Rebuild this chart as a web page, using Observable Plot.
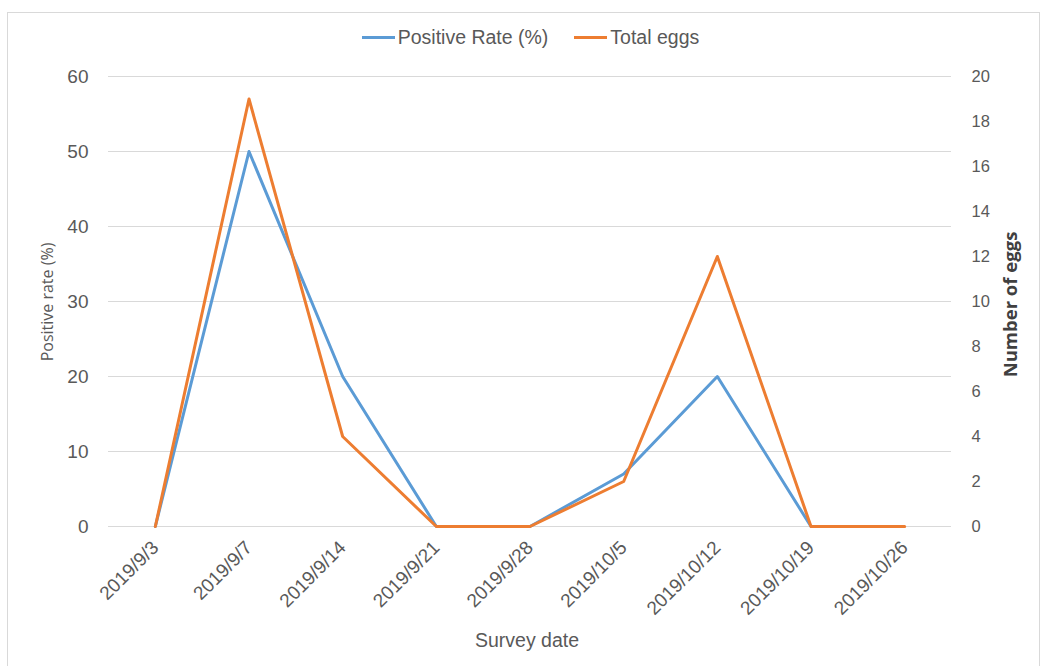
<!DOCTYPE html>
<html>
<head>
<meta charset="utf-8">
<script src="https://cdn.jsdelivr.net/npm/d3@7"></script>
<script src="https://cdn.jsdelivr.net/npm/@observablehq/plot@0.6"></script>
<style>
  body { margin: 0; background: #fff; font-family: "Liberation Sans", Arial, sans-serif; }
  #wrap { position: relative; width: 1045px; height: 666px; overflow: hidden; }
  #frame { position: absolute; left: 7px; top: 12px; width: 1033px; height: 700px; border: 1px solid #d9d9d9; box-sizing: border-box; }
  #legend { position: absolute; top: 26px; left: 8px; width: 1045px; display: flex; justify-content: center; gap: 26px; font-size: 19.5px; color: #595959; }
  #legend .item { display: flex; align-items: center; }
  #legend .sw { width: 33px; height: 3px; margin-right: 3px; }
  #chart { position: absolute; left: 0; top: 55px; }
  .ylab { position: absolute; color: #595959; white-space: nowrap; transform-origin: center; }
</style>
</head>
<body>
<div id="wrap">
  <div id="frame"></div>
  <div id="legend"></div>
  <div id="chart"></div>
</div>
<script>
const dates = ["2019/9/3","2019/9/7","2019/9/14","2019/9/21","2019/9/28","2019/10/5","2019/10/12","2019/10/19","2019/10/26"];
const positiveRate = [0, 50, 20, 0, 0, 7, 20, 0, null];
const totalEggs = [0, 19, 4, 0, 0, 2, 12, 0, 0];
const leftTicks = [0, 10, 20, 30, 40, 50, 60];
const rightTicks = [0, 2, 4, 6, 8, 10, 12, 14, 16, 18, 20];
const seriesNames = ["Positive Rate (%)", "Total eggs"];
const colors = ["#5b9bd5", "#ed7d31"];

const ratio = 60 / 20; // right axis maps 0-20 onto left 0-60

const rateData = dates.map((d, i) => ({date: d, value: positiveRate[i]}));
const eggData = dates.map((d, i) => ({date: d, value: totalEggs[i]}));

// legend
const legend = document.getElementById("legend");
seriesNames.forEach((n, i) => {
  const it = document.createElement("div");
  it.className = "item";
  it.innerHTML = `<span class="sw" style="background:${colors[i]}"></span><span>${n}</span>`;
  legend.appendChild(it);
});

const chart = Plot.plot({
  width: 1045,
  height: 611,
  marginLeft: 108,
  marginRight: 94,
  marginTop: 21,
  marginBottom: 140,
  style: { fontFamily: "Liberation Sans, Arial, sans-serif", color: "#595959", background: "transparent" },
  x: { type: "point", domain: dates, padding: 0.5, round: false },
  y: { domain: [0, 60] },
  marks: [
    Plot.gridY(leftTicks, { stroke: "#d9d9d9", strokeOpacity: 1, strokeWidth: 1 }),
    Plot.axisY(leftTicks, { anchor: "left", tickSize: 0, tickPadding: 20, fontSize: 19, label: null, fill: "#595959" }),
    Plot.axisY(rightTicks.map(t => t * ratio), { anchor: "right", tickSize: 0, tickPadding: 20, fontSize: 16.5, label: null, fill: "#595959", textAnchor: "start", tickFormat: d => d / ratio }),
    Plot.axisX(dates, { anchor: "bottom", tickSize: 0, tickPadding: 18, tickRotate: -45, fontSize: 19, label: null, fill: "#595959" }),
    Plot.line(rateData, { x: "date", y: "value", stroke: colors[0], strokeWidth: 3, defined: d => d.value != null }),
    Plot.line(eggData, { x: "date", y: d => d.value * ratio, stroke: colors[1], strokeWidth: 3 })
  ]
});
document.getElementById("chart").appendChild(chart);

// axis titles
const wrap = document.getElementById("wrap");
function addLabel(text, x, y, rot, size, weight, color, font) {
  const el = document.createElement("div");
  el.className = "ylab";
  el.textContent = text;
  el.style.fontSize = size + "px";
  el.style.fontWeight = weight;
  el.style.color = color;
  if (font) el.style.fontFamily = font;
  wrap.appendChild(el);
  const w = el.offsetWidth, h = el.offsetHeight;
  el.style.left = (x - w / 2) + "px";
  el.style.top = (y - h / 2) + "px";
  if (rot) el.style.transform = `rotate(${rot}deg)`;
}
addLabel("Survey date", 527, 640, 0, 19.5, "normal", "#595959");
addLabel("Positive rate (%)", 47, 302, -90, 16, "normal", "#595959", "Open Sans, sans-serif");
addLabel("Number of eggs", 1010, 304, -90, 18.5, "bold", "#404040", "Open Sans, sans-serif");
</script>
</body>
</html>
